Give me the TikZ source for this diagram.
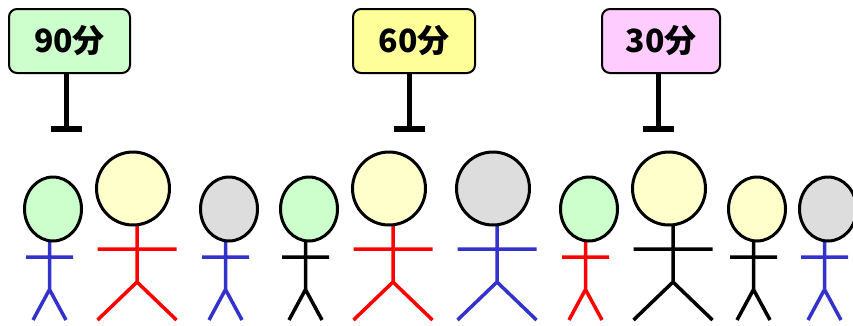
\documentclass[tikz,border=0pt]{standalone}
\usepackage{fontspec}
\newfontfamily\jpfont{Noto Sans CJK JP}
\usetikzlibrary{shapes.geometric}
\definecolor{signgreen}{HTML}{CCFFCC}
\definecolor{signyellow}{HTML}{FFFF99}
\definecolor{signpink}{HTML}{FFCCFF}
\definecolor{headgreen}{HTML}{CCFFCC}
\definecolor{headyellow}{HTML}{FFFFCC}
\definecolor{headgray}{HTML}{DDDDDD}
\definecolor{limbblue}{HTML}{3333CC}
\definecolor{limbred}{HTML}{FF0000}
\tikzset{
  sign/.style={draw=black, line width=2pt, rounded corners=8pt, inner sep=0pt,
    minimum height=64pt, font=\jpfont\bfseries\fontsize{32}{32}\selectfont},
  pole/.style={line width=5pt},
  base/.style={fill=black, inner sep=0pt, minimum width=31pt, minimum height=5.5pt},
  head/.style={ellipse, draw=black, line width=3pt, inner sep=0pt},
  limb/.style={line width=3.5pt},
}
% small figure: name, head centre x, head fill, limb colour
\newcommand\smallman[4]{%
  \coordinate (#1-neck) at (#2-3.5,235);
  \coordinate (#1-hip)  at (#2-3.5,289.5);
  \coordinate (#1-la)   at (#2-27,257);
  \coordinate (#1-ra)   at (#2+20,257);
  \coordinate (#1-lf)   at (#2-20,320);
  \coordinate (#1-rf)   at (#2+13,320);
  \draw[limb,#4] (#1-neck) -- (#1-hip) (#1-la) -- (#1-ra) (#1-lf) -- (#1-hip) -- (#1-rf);
  \node[head,fill=#3,minimum width=57pt,minimum height=64pt] (#1) at (#2,209) {};
}
% large figure: name, head centre x, head fill, limb colour
\newcommand\largeman[4]{%
  \coordinate (#1-neck) at (#2+4,215);
  \coordinate (#1-hip)  at (#2+4,282);
  \coordinate (#1-la)   at (#2-35.5,249);
  \coordinate (#1-ra)   at (#2+43.5,249);
  \coordinate (#1-lf)   at (#2-35.5,320);
  \coordinate (#1-rf)   at (#2+43.5,320);
  \draw[limb,#4] (#1-neck) -- (#1-hip) (#1-la) -- (#1-ra) (#1-lf) -- (#1-hip) -- (#1-rf);
  \node[head,fill=#3,minimum width=73pt,minimum height=73pt] (#1) at (#2,188.5) {};
}
\begin{document}
\begin{tikzpicture}[x=1pt,y=-1pt]
  \useasboundingbox (0,0) rectangle (853,325);

  % time signs
  \node[sign,fill=signgreen,minimum width=121pt]  (s90) at (69.5,41) {90分};
  \node[sign,fill=signyellow,minimum width=122pt] (s60) at (414,41)  {60分};
  \node[sign,fill=signpink,minimum width=118pt]   (s30) at (661,41)  {30分};
  \node[base] (b90) at (66,129)  {};
  \node[base] (b60) at (409,129) {};
  \node[base] (b30) at (658,129) {};
  \draw[pole] (s90.south -| b90) -- (b90.north);
  \draw[pole] (s60.south -| b60) -- (b60.north);
  \draw[pole] (s30.south -| b30) -- (b30.north);

  % people
  \smallman{p1}{53}{headgreen}{limbblue}
  \largeman{p2}{133}{headyellow}{limbred}
  \smallman{p3}{229}{headgray}{limbblue}
  \smallman{p4}{309}{headgreen}{black}
  \largeman{p5}{389}{headyellow}{limbred}
  \largeman{p6}{493}{headgray}{limbblue}
  \smallman{p7}{589}{headgreen}{limbred}
  \largeman{p8}{669}{headyellow}{black}
  \smallman{p9}{757}{headyellow}{black}
  \smallman{p10}{828}{headgray}{limbblue}
\end{tikzpicture}
\end{document}
